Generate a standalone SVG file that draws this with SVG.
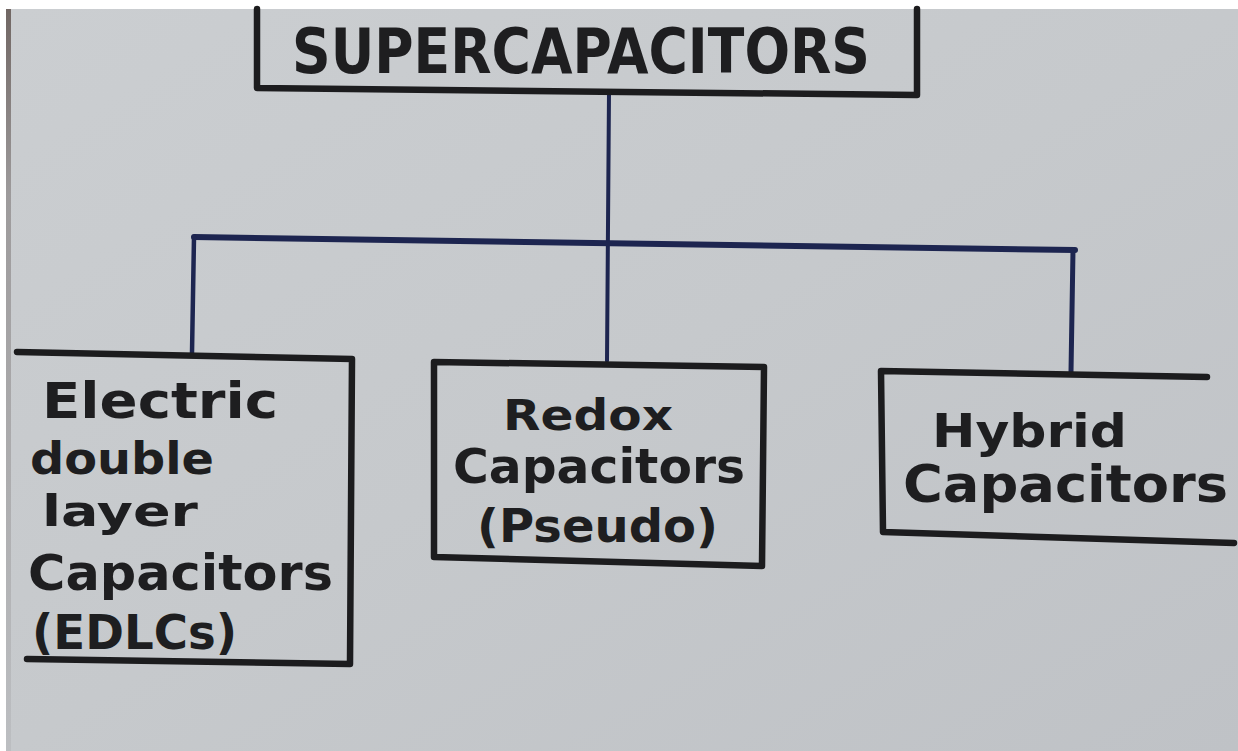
<svg xmlns="http://www.w3.org/2000/svg" width="1238" height="751" viewBox="0 0 1238 751">
  <defs>
    <linearGradient id="paper" x1="0" y1="0" x2="1" y2="1">
      <stop offset="0" stop-color="#cbced1"/>
      <stop offset="0.5" stop-color="#c6c9cc"/>
      <stop offset="1" stop-color="#bfc2c6"/>
    </linearGradient>
    <linearGradient id="edge" x1="0" y1="0" x2="0" y2="1">
      <stop offset="0" stop-color="#4a3a34"/>
      <stop offset="0.25" stop-color="#8a8585"/>
      <stop offset="1" stop-color="#b8babd"/>
    </linearGradient>
  </defs>
  <style>
    .box { fill: none; stroke: #1c1c1e; stroke-width: 6.5; stroke-linecap: round; stroke-linejoin: round; }
    .conn { fill: none; stroke: #1d2550; stroke-linecap: round; }
    .hand { font-family: "DejaVu Sans", "Liberation Sans", sans-serif; font-weight: bold; fill: #1e1e20; }
  </style>

  <!-- background / photo edges -->
  <rect x="0" y="0" width="1238" height="751" fill="#ffffff"/>
  <rect x="6" y="9" width="1232" height="742" fill="url(#paper)"/>
  <rect x="6" y="9" width="5" height="742" fill="url(#edge)" opacity="0.7"/>

  <g id="connectors">
    <line class="conn" x1="609" y1="92" x2="607" y2="361" stroke-width="4"/>
    <line class="conn" x1="194" y1="237" x2="1075" y2="250" stroke-width="6"/>
    <line class="conn" x1="194" y1="237" x2="192" y2="353" stroke-width="4.5"/>
    <line class="conn" x1="1073" y1="250" x2="1071" y2="372" stroke-width="5"/>
  </g>

  <g id="node-top">
    <path class="box" d="M257,9 L257,88 L917,95 L917,9"/>
    <text class="hand" x="292" y="73" font-size="62" textLength="578" lengthAdjust="spacingAndGlyphs">SUPERCAPACITORS</text>
  </g>

  <g id="node-edlc">
    <path class="box" d="M17,352 L352,359 L350,664 L27,659"/>
    <text class="hand" x="42" y="418" font-size="50" textLength="236" lengthAdjust="spacingAndGlyphs">Electric</text>
    <text class="hand" x="30" y="474" font-size="44" textLength="184" lengthAdjust="spacingAndGlyphs">double</text>
    <text class="hand" x="42" y="526" font-size="42" textLength="156" lengthAdjust="spacingAndGlyphs">layer</text>
    <text class="hand" x="28" y="590" font-size="50" textLength="305" lengthAdjust="spacingAndGlyphs">Capacitors</text>
    <text class="hand" x="32" y="649" font-size="48" textLength="205" lengthAdjust="spacingAndGlyphs">(EDLCs)</text>
  </g>

  <g id="node-redox">
    <path class="box" d="M434,362 L764,367 L762,566 L434,557 Z"/>
    <text class="hand" x="503" y="430" font-size="42" textLength="170" lengthAdjust="spacingAndGlyphs">Redox</text>
    <text class="hand" x="453" y="483" font-size="48" textLength="292" lengthAdjust="spacingAndGlyphs">Capacitors</text>
    <text class="hand" x="477" y="542" font-size="46" textLength="241" lengthAdjust="spacingAndGlyphs">(Pseudo)</text>
  </g>

  <g id="node-hybrid">
    <path class="box" d="M1207,377 L881,371 L883,532 L1234,543"/>
    <text class="hand" x="932" y="447" font-size="46" textLength="195" lengthAdjust="spacingAndGlyphs">Hybrid</text>
    <text class="hand" x="903" y="502" font-size="52" textLength="325" lengthAdjust="spacingAndGlyphs">Capacitors</text>
  </g>
</svg>
